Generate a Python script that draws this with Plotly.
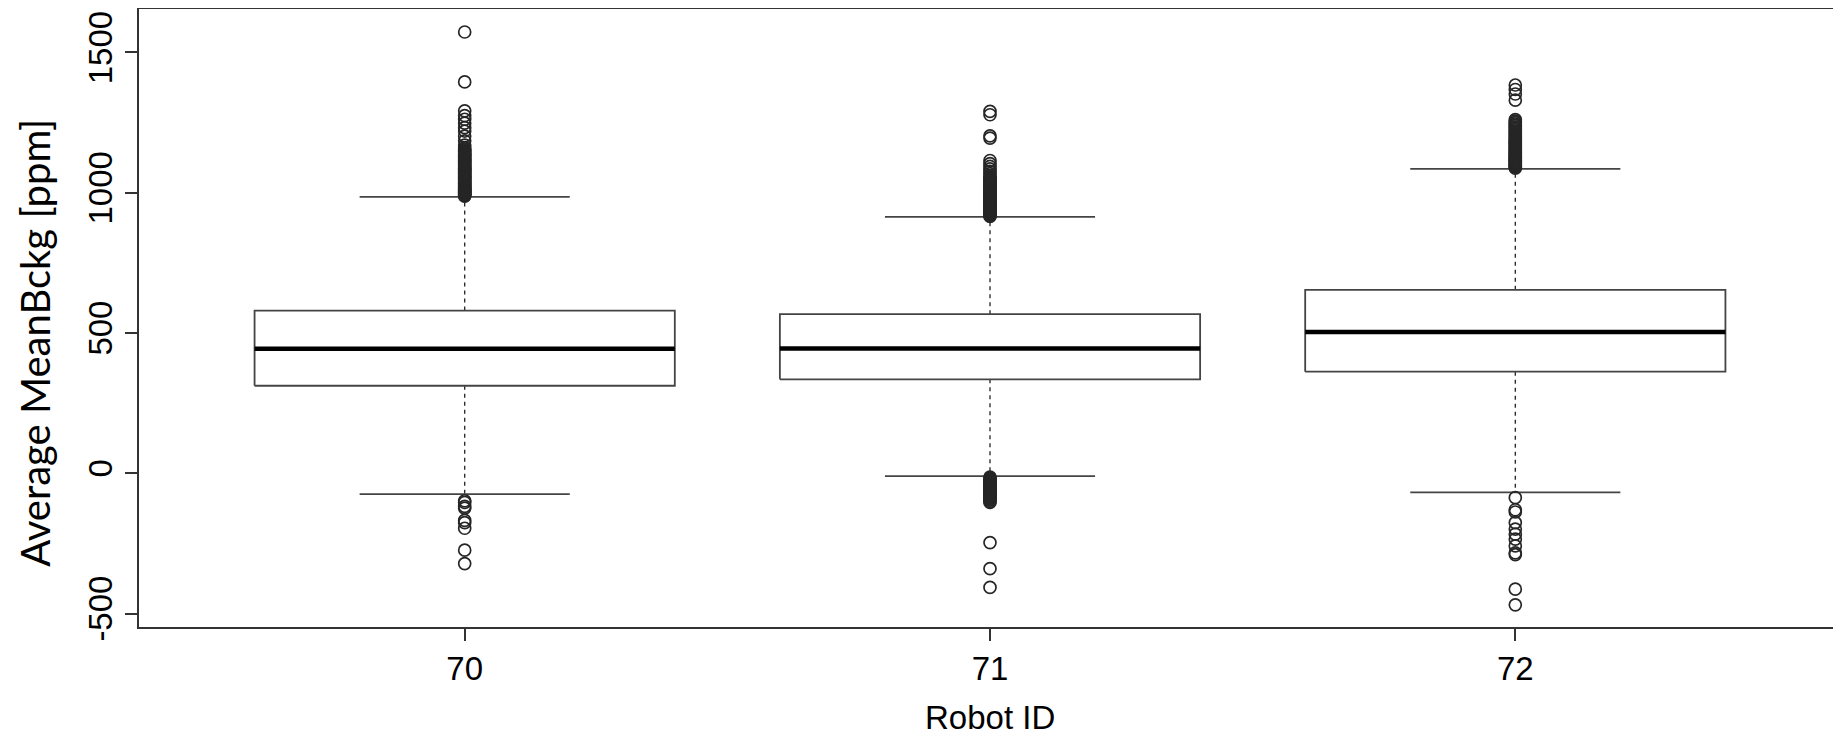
import plotly.graph_objects as go

# ---- data ----
robot_ids = [70, 71, 72]
q1 = [312, 335, 362]
median = [444, 445, 504]
q3 = [580, 567, 654]
whisker_low = [-74, -10, -68]
whisker_high = [985, 914, 1085]

outliers_70 = [1573, 1395, 1292, 1275, 1262, 1248, 1232, 1220, 1202, 1185, 1170, 1161,
               1156, 1152, 1148, 1145, 1141, 1138, 1134, 1130, 1126, 1122, 1118, 1115,
               1111, 1108, 1104, 1100, 1097, 1093, 1089, 1086, 1083, 1080, 1076, 1073,
               1069, 1066, 1063, 1060, 1057, 1054, 1051, 1048, 1045, 1042, 1039, 1036,
               1033, 1030, 1027, 1025, 1022, 1020, 1017, 1015, 1012, 1010, 1008, 1006,
               1004, 1002, 1000, 998, 996, 994, 992, 990, 988,
               -98, -104, -118, -124, -168, -176, -196, -274, -322]
outliers_71 = [1290, 1278, 1203, 1195, 1115, 1104, 1094, 1085, 1076, 1068, 1060, 1056,
               1052, 1048, 1045, 1041, 1038, 1034, 1031, 1027, 1024, 1020, 1017, 1014,
               1010, 1007, 1004, 1001, 998, 995, 992, 989, 986, 983, 980, 977, 974, 971,
               968, 965, 962, 959, 956, 953, 950, 947, 945, 942, 940, 937, 935, 932, 930,
               928, 926, 924, 922, 920, 918, 916,
               -14, -18, -21, -24, -27, -30, -33, -36, -39, -42, -45, -48, -51, -54, -57,
               -60, -63, -66, -69, -72, -75, -78, -81, -84, -87, -90, -93, -96, -100, -104,
               -247, -340, -407]
outliers_72 = [1384, 1368, 1352, 1330, 1261, 1255, 1250, 1245, 1240, 1235, 1230, 1225,
               1220, 1215, 1210, 1205, 1200, 1196, 1192, 1188, 1184, 1180, 1176, 1172,
               1168, 1164, 1160, 1157, 1153, 1150, 1146, 1143, 1139, 1136, 1132, 1129,
               1126, 1123, 1120, 1117, 1114, 1111, 1108, 1105, 1102, 1099, 1096, 1093,
               1091, 1088,
               -87, -130, -138, -176, -199, -217, -235, -259, -284, -290, -413, -469]
outliers = [outliers_70, outliers_71, outliers_72]

x_tick_labels = ["70", "71", "72"]
y_tick_vals = [-500, 0, 500, 1000, 1500]
y_tick_labels = ["-500", "0", "500", "1000", "1500"]
x_title = "Robot ID"
y_title = "Average MeanBckg [ppm]"

BOX_HALF = 0.4
STAPLE_HALF = 0.2
LINE_COL = "#333333"

fig = go.Figure()

# whiskers (dashed)
wx, wy = [], []
for c, a, b, lo, hi in zip(robot_ids, q1, q3, whisker_low, whisker_high):
    wx += [c, c, None, c, c, None]
    wy += [b, hi, None, a, lo, None]
fig.add_trace(go.Scatter(x=wx, y=wy, mode="lines",
                         line=dict(color="#222222", width=1.3, dash="4px,4px"),
                         hoverinfo="skip", showlegend=False))

# staples
sx, sy = [], []
for c, lo, hi in zip(robot_ids, whisker_low, whisker_high):
    sx += [c - STAPLE_HALF, c + STAPLE_HALF, None, c - STAPLE_HALF, c + STAPLE_HALF, None]
    sy += [hi, hi, None, lo, lo, None]
fig.add_trace(go.Scatter(x=sx, y=sy, mode="lines",
                         line=dict(color="#444444", width=1.7),
                         hoverinfo="skip", showlegend=False))

# boxes
bx, by = [], []
for c, a, b in zip(robot_ids, q1, q3):
    bx += [c - BOX_HALF, c + BOX_HALF, c + BOX_HALF, c - BOX_HALF, c - BOX_HALF, None]
    by += [a, a, b, b, a, None]
fig.add_trace(go.Scatter(x=bx, y=by, mode="lines",
                         line=dict(color="#444444", width=1.8),
                         hoverinfo="skip", showlegend=False))

# medians
mx, my = [], []
for c, m in zip(robot_ids, median):
    mx += [c - BOX_HALF, c + BOX_HALF, None]
    my += [m, m, None]
fig.add_trace(go.Scatter(x=mx, y=my, mode="lines",
                         line=dict(color="#000000", width=4.5),
                         hoverinfo="skip", showlegend=False))

# outliers
ox, oy = [], []
for c, vals in zip(robot_ids, outliers):
    ox += [c] * len(vals)
    oy += vals
fig.add_trace(go.Scatter(x=ox, y=oy, mode="markers",
                         marker=dict(symbol="circle-open", size=12,
                                     color="#262626", line=dict(width=1.7)),
                         showlegend=False))

tick_font = dict(family="Liberation Sans, Arial, sans-serif", size=33, color="#000000")

fig.update_layout(
    width=1833, height=729,
    margin=dict(l=131, r=0, t=1, b=110),
    paper_bgcolor="white", plot_bgcolor="white",
    showlegend=False,
    xaxis=dict(
        range=[69.38, 72.62], automargin=False,
        tickmode="array", tickvals=robot_ids, ticktext=x_tick_labels,
        ticks="outside", ticklen=12, tickwidth=1.5, tickcolor=LINE_COL,
        showline=True, linecolor=LINE_COL, linewidth=1.5, mirror=True,
        showgrid=False, zeroline=False,
        tickfont=tick_font,
    ),
    yaxis=dict(
        range=[-548, 1655], automargin=False,
        tickmode="array", tickvals=y_tick_vals, ticktext=y_tick_labels,
        tickangle=-90,
        ticks="outside", ticklen=12, tickwidth=1.5, tickcolor=LINE_COL,
        showline=True, linecolor=LINE_COL, linewidth=1.5, mirror=False,
        showgrid=False, zeroline=False,
        tickfont=tick_font,
    ),
    annotations=[
        dict(
            text=y_title, textangle=-90,
            xref="paper", yref="paper", x=0, y=0.46,
            xanchor="center", yanchor="middle", xshift=-104,
            showarrow=False,
            font=dict(family="Lato, Carlito, sans-serif", size=40, color="#000000"),
        ),
        dict(
            text=x_title,
            xref="paper", yref="paper", x=0.5, y=0,
            xanchor="center", yanchor="middle", yshift=-90,
            showarrow=False,
            font=tick_font,
        ),
    ],
)

fig.write_html("out.html")
